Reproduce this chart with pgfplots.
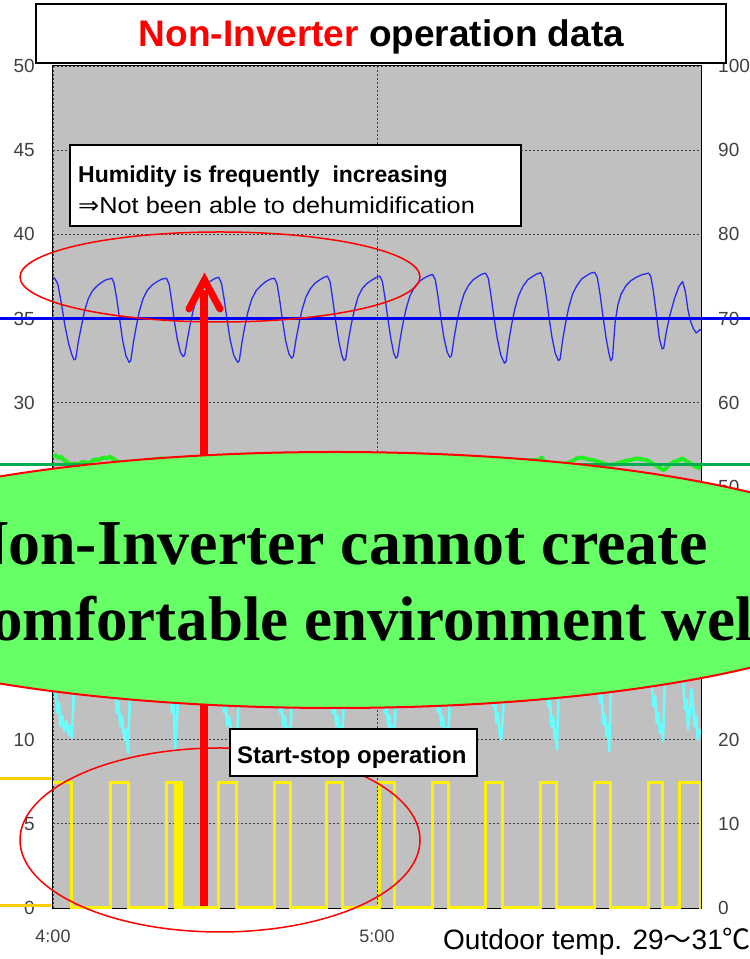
\documentclass[border=0pt]{standalone}
\usepackage{pgfplots}
\pgfplotsset{compat=1.18}
\usepackage{fontspec}
\setmainfont{Liberation Sans}
\newfontfamily\serifb{Liberation Serif}
\newfontfamily\cjk{Noto Sans CJK JP}
\newfontfamily\dejavu{DejaVu Sans}
\definecolor{plotbg}{HTML}{C0C0C0}
\definecolor{ellgreen}{HTML}{66FF66}
\definecolor{tempgreen}{HTML}{22EE22}
\definecolor{setgreen}{HTML}{00B050}
\definecolor{cyanline}{HTML}{66FFFF}
\definecolor{hum}{HTML}{2A2AF0}
\definecolor{stub}{HTML}{FFCC00}

\begin{document}
\begin{tikzpicture}
\begin{axis}[
  at={(0,0)}, anchor=south west,
  scale only axis, width=648bp, height=842bp,
  xmin=0, xmax=120, ymin=0, ymax=50,
  axis background/.style={fill=plotbg},
  xtick={0,60}, xticklabels={4:00,5:00},
  ytick={0,5,...,50},
  grid=major,
  major grid style={draw=black!75, line width=0.8bp, dash pattern=on 2bp off 2bp},
  major tick length=0pt,
  axis line style={black, line width=1bp},
  /pgf/number format/assume math mode=true,
  yticklabel style={anchor=east, inner sep=0pt, xshift=-18bp, text=black!75, font=\fontsize{19bp}{19bp}\selectfont},
  xticklabel style={anchor=north, inner sep=0pt, yshift=-22bp, text=black!75, font=\fontsize{18bp}{18bp}\selectfont},
]
% cyan (hidden mostly)
\addplot[cyanline, line width=2.5bp, line join=round] coordinates {
(0,14.5) (0.4,13.0) (0.8,11.6) (1.1,12.2) (1.4,10.8) (1.7,11.4) (2.1,10.5) (2.5,11.1) (2.86,10.3) (3.16,10.8) (3.46,10.1) (3.76,12.0) (4.06,15.5) (4.66,18.8) (5.46,20.0) (7.5,20.4) (9.3,20.1)
(10.74,20.3) (11.14,16.5) (11.54,13.0) (11.84,11.6) (12.14,12.2) (12.44,10.8) (12.74,11.4) (13.0,10.6) (13.29,10.0) (13.59,10.6) (13.89,9.2) (14.19,12.0) (14.49,15.5) (15.09,18.8) (15.89,20.0) (18.0,20.5) (19.6,20.2)
(20.93,20.3) (21.33,16.5) (21.73,13.0) (22.03,11.6) (22.33,12.2) (22.63,9.4) (22.93,11.0) (23.2,12.8) (23.5,13.5) (23.83,14.5) (24.3,17.0) (25.0,19.3) (25.83,20.0) (27.8,20.4) (29.4,20.1)
(30.56,20.3) (30.96,16.5) (31.36,13.0) (31.66,11.6) (31.96,12.2) (32.26,10.8) (32.56,11.4) (33.0,10.6) (33.42,10.0) (33.72,10.6) (34.02,9.6) (34.32,12.0) (34.62,15.5) (35.22,18.8) (36.02,20.0) (38.2,20.4) (39.8,20.1)
(40.93,20.3) (41.33,16.5) (41.73,13.0) (42.03,11.6) (42.33,12.2) (42.63,10.8) (42.93,11.4) (43.29,10.2) (43.59,10.7) (43.89,9.7) (44.19,12.0) (44.49,15.5) (45.09,18.8) (45.89,20.0) (48.0,20.4) (49.6,20.1)
(50.74,20.3) (51.14,16.5) (51.54,13.0) (51.84,11.6) (52.14,12.2) (52.44,10.8) (52.74,11.4) (53.0,10.3) (53.25,10.8) (53.52,9.8) (53.82,12.0) (54.12,15.5) (54.72,18.8) (55.52,20.0) (57.6,20.4) (59.2,20.1)
(60.37,20.3) (60.77,16.5) (61.17,13.0) (61.47,11.6) (61.77,12.2) (62.07,10.8) (62.37,11.4) (62.6,10.3) (62.88,10.8) (63.15,9.7) (63.45,12.0) (63.75,15.5) (64.35,18.8) (65.15,20.0) (67.2,20.4) (68.9,20.1)
(70.19,20.3) (70.59,16.5) (70.99,13.0) (71.29,11.6) (71.59,12.2) (71.89,10.8) (72.19,11.4) (72.55,10.2) (72.85,10.7) (73.15,9.6) (73.45,12.0) (73.75,15.5) (74.35,18.8) (75.15,20.0) (77.3,20.4) (78.8,20.1)
(80.0,20.3) (80.4,16.5) (80.8,14.0) (81.2,13.2) (81.5,12.0) (81.8,12.6) (82.1,11.0) (82.4,11.6) (82.7,10.4) (83.0,10.0) (83.33,11.5) (83.63,13.5) (83.93,15.8) (84.53,18.8) (85.33,20.0) (87.5,20.4) (89.0,20.1)
(90.19,20.3) (90.59,16.5) (90.99,14.0) (91.4,13.2) (91.7,12.0) (92.0,12.6) (92.3,10.8) (92.6,11.4) (92.9,10.0) (93.1,10.6) (93.33,9.4) (93.63,13.0) (93.93,15.8) (94.53,18.8) (95.33,20.0) (97.5,20.4) (99.0,20.1)
(100.19,20.3) (100.59,16.5) (100.99,13.6) (101.3,12.2) (101.6,12.8) (101.9,10.9) (102.2,11.5) (102.5,10.2) (102.8,10.8) (103.0,9.3) (103.3,13.0) (103.6,15.8) (104.2,18.8) (105.0,20.0) (107.0,20.4) (108.8,20.1)
(110.19,20.3) (110.59,16.0) (110.9,13.4) (111.2,12.0) (111.5,12.6) (111.8,11.0) (112.1,11.6) (112.4,10.4) (112.7,10.9) (112.96,9.9) (113.25,13.0) (113.6,16.0) (114.2,18.8) (115.0,20.0) (115.93,20.3)
(116.33,16.5) (116.7,13.5) (117.0,11.8) (117.3,12.4) (117.6,10.6) (117.9,11.6) (118.2,13.0) (118.5,12.2) (118.8,10.8) (119.1,11.4) (119.4,10.0) (119.7,10.6) (120,10.3)
};
% room temperature (green)
\addplot[tempgreen, line width=4bp, line join=round] coordinates {
(0,26.8) (0.5,26.9) (1,26.7) (1.5,26.8) (2,26.6) (2.5,26.5) (3,26.4) (3.5,26.3) (4,26.4) (4.5,26.35) (5,26.4) (5.5,26.5) (6,26.45) (6.5,26.4) (7,26.5) (7.5,26.6) (8,26.65) (8.5,26.6) (9,26.7) (9.5,26.75) (10,26.7) (10.5,26.8) (11,26.7) (11.5,26.6) (12,26.5) (13,26.4) (14,26.3)
(16,26.5) (18,26.6) (20,26.7) (22,26.5) (24,26.3) (26,26.5) (28,26.6) (30,26.7) (32,26.5) (34,26.3) (36,26.5) (38,26.6) (40,26.7) (42,26.5) (44,26.3) (46,26.5) (48,26.6) (50,26.7) (52,26.5) (54,26.3) (56,26.5) (58,26.6) (60,26.7) (62,26.5) (64,26.3) (66,26.5) (68,26.6) (70,26.7) (72,26.5) (74,26.3) (76,26.5) (78,26.6) (80,26.7) (82,26.5) (84,26.3) (86,26.5) (88,26.6)
(90,26.6) (90.5,26.75) (91,26.5) (92,26.4) (93,26.3) (94,26.4) (95,26.4) (96,26.5) (97,26.7) (98,26.75) (99,26.65) (100,26.6) (101,26.5) (102,26.4) (103,26.3) (104,26.35) (105,26.45) (106,26.55) (107,26.6) (108,26.7) (109,26.65) (110,26.6) (111,26.4) (112,26.2) (113,26.0) (113.5,26.1) (114,26.3) (115,26.5) (116,26.6) (116.5,26.7) (117,26.6) (118,26.4) (119,26.2) (120,26.1)
};
% compressor on/off (yellow)
\addplot[yellow, line width=3bp, line join=miter] coordinates {
(0,7.45) (3.46,7.45) (3.46,0.05) (10.74,0.05) (10.74,7.45) (13.89,7.45) (13.89,0.05)
(20.93,0.05) (20.93,7.45) (22.6,7.45) (22.6,0.05) (22.8,0.05) (22.8,7.45) (23.0,7.45) (23.0,0.05) (23.2,0.05) (23.2,7.45) (23.4,7.45) (23.4,0.05) (23.6,0.05) (23.6,7.45) (23.83,7.45) (23.83,0.05)
(30.56,0.05) (30.56,7.45) (34.02,7.45) (34.02,0.05)
(40.93,0.05) (40.93,7.45) (43.89,7.45) (43.89,0.05)
(50.74,0.05) (50.74,7.45) (53.52,7.45) (53.52,0.05)
(60.37,0.05) (60.37,7.45) (63.15,7.45) (63.15,0.05)
(70.19,0.05) (70.19,7.45) (73.15,7.45) (73.15,0.05)
(80.0,0.05) (80.0,7.45) (83.33,7.45) (83.33,0.05)
(90.19,0.05) (90.19,7.45) (93.33,7.45) (93.33,0.05)
(100.19,0.05) (100.19,7.45) (103.15,7.45) (103.15,0.05)
(110.19,0.05) (110.19,7.45) (112.96,7.45) (112.96,0.05)
(115.93,0.05) (115.93,7.45) (119.85,7.45) (119.85,0.05) (120,0.05)
};
\end{axis}
\begin{axis}[
  at={(0,0)}, anchor=south west,
  scale only axis, width=648bp, height=842bp,
  xmin=0, xmax=120, ymin=0, ymax=100,
  axis x line=none, axis y line*=right,
  ytick={0,10,...,100},
  major tick length=0pt,
  axis line style={black, line width=1bp},
  /pgf/number format/assume math mode=true,
  yticklabel style={anchor=west, inner sep=0pt, xshift=17bp, text=black!75, font=\fontsize{19bp}{19bp}\selectfont},
]
% humidity (blue)
\addplot[hum, line width=1.3bp, line join=round] coordinates {
(0,74.9) (0.4,74.7) (0.9,74.1) (1.5,72.0) (2.2,69.2) (2.9,67.0) (3.5,65.7) (3.9,65.1) (4.2,65.2)
(4.7,67.3) (5.2,68.9) (5.8,70.8) (6.5,72.3) (7.3,73.3) (8.2,73.9) (9.0,74.3) (9.8,74.6) (10.4,74.7) (10.9,74.8)
(11.3,74.2) (11.8,72.4) (12.3,70.1) (12.9,67.4) (13.5,65.6) (14.1,64.8) (14.4,65.0)
(14.9,67.2) (15.4,69.0) (16.0,70.9) (16.7,72.4) (17.5,73.4) (18.4,74.0) (19.3,74.4) (20.2,74.7) (21.0,74.8)
(21.5,74.1) (22.0,72.0) (22.5,69.6) (23.0,67.6) (23.6,66.0) (24.1,65.5) (24.4,65.7)
(24.9,67.6) (25.4,69.3) (26.0,71.1) (26.7,72.5) (27.5,73.5) (28.4,74.1) (29.3,74.5) (30.1,74.8) (30.7,74.9)
(31.2,74.2) (31.7,72.3) (32.2,70.0) (32.8,67.5) (33.5,65.6) (34.2,64.8) (34.5,65.0)
(35.0,67.2) (35.5,69.0) (36.1,70.8) (36.8,72.3) (37.6,73.3) (38.5,73.9) (39.4,74.4) (40.3,74.7) (41.0,74.8)
(41.5,74.1) (42.0,72.1) (42.5,69.8) (43.1,67.3) (43.7,65.8) (44.2,65.3) (44.5,65.5)
(45.0,67.5) (45.5,69.2) (46.1,71.0) (46.8,72.5) (47.6,73.5) (48.5,74.2) (49.4,74.6) (50.2,74.9) (50.8,75.05)
(51.3,74.4) (51.8,72.3) (52.3,69.9) (52.9,67.4) (53.5,65.6) (53.9,65.0) (54.2,65.2)
(54.7,67.4) (55.2,69.2) (55.8,71.0) (56.5,72.6) (57.3,73.6) (58.2,74.2) (59.1,74.6) (59.9,74.9) (60.5,75.05)
(61.0,74.4) (61.5,72.4) (62.0,70.0) (62.6,67.5) (63.1,65.9) (63.5,65.3) (63.8,65.5)
(64.3,67.6) (64.8,69.4) (65.4,71.2) (66.1,72.7) (66.9,73.7) (67.8,74.4) (68.7,74.8) (69.6,75.1) (70.3,75.25)
(70.8,74.6) (71.3,72.6) (71.8,70.2) (72.4,67.7) (73.0,66.0) (73.5,65.4) (73.8,65.6)
(74.3,67.8) (74.8,69.6) (75.4,71.4) (76.1,72.9) (76.9,73.9) (77.8,74.6) (78.7,75.0) (79.5,75.3) (80.1,75.4)
(80.6,74.8) (81.1,72.8) (81.6,70.4) (82.2,67.9) (82.9,65.7) (83.6,64.7) (83.9,64.9)
(84.4,67.3) (84.9,69.2) (85.5,71.1) (86.2,72.7) (87.0,73.8) (87.9,74.6) (88.8,75.0) (89.6,75.3) (90.3,75.45)
(90.8,74.8) (91.3,72.8) (91.8,70.4) (92.4,67.8) (93.0,65.9) (93.6,65.0) (93.9,65.2)
(94.4,67.5) (94.9,69.4) (95.5,71.3) (96.2,72.9) (97.0,73.9) (97.9,74.7) (98.8,75.1) (99.6,75.4) (100.3,75.5)
(100.8,74.9) (101.3,72.9) (101.8,70.5) (102.4,67.8) (102.9,66.0) (103.3,65.0) (103.6,65.3)
(104.1,69.6) (104.6,71.6) (105.2,72.9) (106.1,73.9) (107.0,74.5) (108.0,74.9) (109.0,75.2) (110.3,75.4)
(110.7,75.0) (111.1,73.6) (111.7,70.7) (112.3,67.6) (112.8,66.4) (113.1,66.5)
(113.6,68.5) (114.2,70.3) (115.1,72.4) (115.9,73.8) (116.6,74.4)
(117.1,73.2) (117.6,71.0) (118.1,69.6) (118.6,68.8) (119.1,68.3) (119.5,68.5) (119.8,68.7) (120,68.6)
};
\end{axis}
% ---------- annotations, in image pixel coordinates ----------
\begin{scope}[x=1bp, y=-1bp, shift={(-53bp,908bp)}]
\draw[blue, line width=3bp] (0,318.3) -- (750,318.3);
\draw[setgreen, line width=3bp] (0,465) -- (750,465);
\draw[stub, line width=3bp] (0,779) -- (51,779);
\draw[stub, line width=3bp] (0,906) -- (51,906);
% top ellipse
\draw[red, line width=1.5bp] (220,277) ellipse [x radius=200, y radius=45];
% red arrow
\draw[red, line width=8bp] (204.5,906) -- (204.5,290);
\draw[red, line width=7bp, line cap=round, line join=miter] (189,309) -- (204.5,280) -- (220,309);
% bottom ellipse
\draw[red, line width=1.5bp] (220,840) ellipse [x radius=200, y radius=92];
% green ellipse
\draw[red, line width=2bp, fill=ellgreen] (335,580) ellipse [x radius=570, y radius=128];
\node[anchor=base west, inner sep=0pt, font=\serifb\bfseries\fontsize{64bp}{64bp}\selectfont] at (-38,565) {Non-Inverter cannot create};
\node[anchor=base west, inner sep=0pt, font=\serifb\bfseries\fontsize{63bp}{63bp}\selectfont] at (-37,641) {comfortable environment well};
% start-stop box
\draw[black, line width=1.5bp, fill=white] (230,729) rectangle (477,776);
\node[anchor=base west, inner sep=0pt, font=\bfseries\fontsize{24bp}{24bp}\selectfont] at (237,764) {Start-stop operation};
% humidity box
\draw[black, line width=1.5bp, fill=white] (70,145) rectangle (521,226);
\node[anchor=base west, inner sep=0pt, font=\bfseries\fontsize{23bp}{23bp}\selectfont] at (78,183) {Humidity is frequently\ \ increasing};
\node[anchor=base west, inner sep=0pt, font=\fontsize{23bp}{23bp}\selectfont] at (78,214) {\scalebox{1.1}[1]{{\dejavu ⇒}Not been able to dehumidification}};
% title box
\draw[black, line width=2bp, fill=white] (36,4) rectangle (726,63);
\node[anchor=base, inner sep=0pt, font=\bfseries\fontsize{37bp}{37bp}\selectfont] at (381.5,47) {\textcolor{red}{Non-Inverter} operation data};
% outdoor temp
\node[anchor=base west, inner sep=0pt, font=\fontsize{28bp}{28bp}\selectfont] at (443,950) {Outdoor temp. 29{\cjk ～}31{\cjk ℃}};
\end{scope}
\pgfresetboundingbox
\path[use as bounding box] (-53bp,-51bp) rectangle (697bp,908bp);
\end{tikzpicture}
\end{document}
